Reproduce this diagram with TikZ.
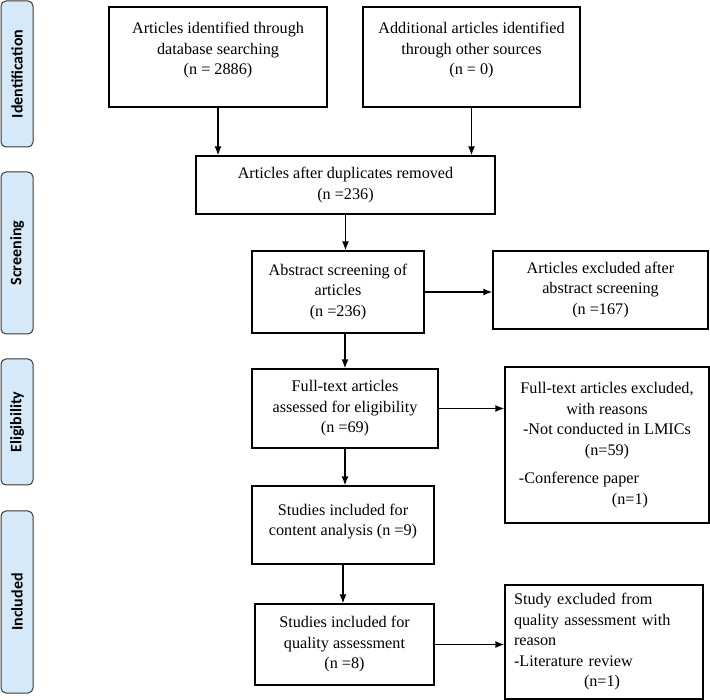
\documentclass[tikz,border=0pt]{standalone}
\usepackage{fontspec}
\setmainfont{Liberation Serif}
\newfontfamily\labfont{Carlito}
\usetikzlibrary{arrows.meta}
\definecolor{labfill}{HTML}{D6E9F8}
\definecolor{labdraw}{HTML}{3A3A3A}
\begin{document}
\begin{tikzpicture}[x={(1pt,0)},y={(0,-1pt)},
  box/.style={draw=black,line width=1.3pt,align=center,inner sep=2pt,
    font=\fontsize{16.2}{20.5}\selectfont},
  lbox/.style={draw=black,line width=1.3pt,align=left,inner sep=0pt,
    font=\fontsize{16.2}{20.5}\selectfont},
  stage/.style={draw=labdraw,fill=labfill,line width=1pt,rounded corners=5pt,
    rotate=90,inner sep=0pt,font=\labfont\bfseries\fontsize{16}{18}\selectfont},
  arr/.style={-{Latex[length=9pt,width=7pt]},line width=1.4pt}]
\useasboundingbox (0,0) rectangle (710,700);
% stage labels
\node[stage,minimum width=146pt,minimum height=32pt] (sid) at (17,74) {Identification};
\node[stage,minimum width=162pt,minimum height=32pt] (sscr) at (17,253) {Screening};
\node[stage,minimum width=126pt,minimum height=32pt] (seli) at (17,422) {Eligibility};
\node[stage,minimum width=182pt,minimum height=32pt] (sinc) at (17,602) {Included};
% boxes
\node[box,minimum width=218pt,minimum height=100pt] (b1) at (218,57)
  {Articles identified through\\database searching\\(n = 2886)\\[-4pt]\mbox{}};
\node[box,minimum width=217pt,minimum height=100pt] (b2) at (471.5,57)
  {Additional articles identified\\through other sources\\(n = 0)\\[-4pt]\mbox{}};
\node[box,minimum width=299pt,minimum height=58pt] (b3) at (345.5,185)
  {Articles after duplicates removed\\(n =236)};
\node[box,minimum width=172pt,minimum height=82pt] (abs) at (338,292)
  {Abstract screening of\\articles\\(n =236)};
\node[box,minimum width=215pt,minimum height=78pt] (ex1) at (600.5,290)
  {Articles excluded after\\abstract screening\\(n =167)};
\node[box,minimum width=186pt,minimum height=79pt] (ft) at (345,408.5)
  {Full-text articles\\assessed for eligibility\\(n =69)};
\node[box,minimum width=204pt,minimum height=156pt] (ex2) at (607,445)
  {Full-text articles excluded,\\with reasons\\-Not conducted in LMICs\\(n=59)\\[8pt]
   \hspace*{-56pt}-Conference paper\\\hspace*{46pt}(n=1)};
\node[box,minimum width=182pt,minimum height=78pt] (sc) at (343,525)
  {Studies included for\\content analysis (n =9)\\[-10pt]\mbox{}};
\node[box,minimum width=179pt,minimum height=81pt] (q) at (344.5,644.5)
  {Studies included for\\quality assessment\\(n =8)};
\node[lbox,minimum width=198pt,minimum height=114pt,text width=180pt] (ex3) at (604,642)
  {Study excluded from\\quality assessment with\\reason\\-Literature review\\\hspace*{70pt}(n=1)};
% connectors
\draw[arr] (b1.south) -- (b1.south |- b3.north);
\draw[arr] (b2.south) -- (b2.south |- b3.north);
\draw[arr] (b3.south) -- (b3.south |- abs.north);
\draw[arr] (abs.east) -- (abs.east -| ex1.west);
\draw[arr] (ft.north |- abs.south) -- (ft.north);
\draw[arr] (ft.east) -- (ft.east -| ex2.west);
\draw[arr] (ft.south) -- (ft.south |- sc.north);
\draw[arr] (sc.south) -- (sc.south |- q.north);
\draw[arr] (q.east) -- (q.east -| ex3.west);
\end{tikzpicture}
\end{document}
